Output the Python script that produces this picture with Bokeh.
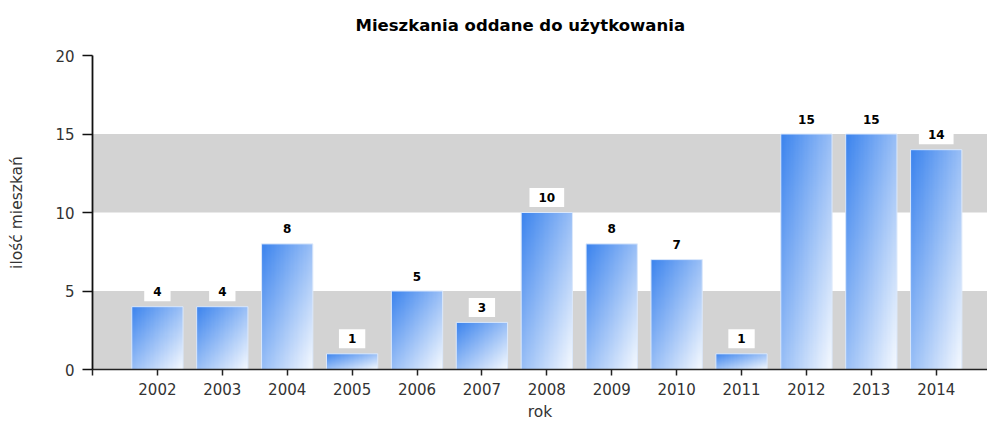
import numpy as np
from bokeh.plotting import figure
from bokeh.models import ColumnDataSource, Range1d, FixedTicker, BoxAnnotation, Title
from bokeh.core.properties import value
from bokeh.embed import file_html
from bokeh.resources import INLINE

# ---- data ----
years = [2002, 2003, 2004, 2005, 2006, 2007, 2008, 2009, 2010, 2011, 2012, 2013, 2014]
counts = [4, 4, 8, 1, 5, 3, 10, 8, 7, 1, 15, 15, 14]
y_ticks = [0, 5, 10, 15, 20]
title_text = "Mieszkania oddane do użytkowania"
x_label = "rok"
y_label = "ilość mieszkań"

BAR_W = 0.79
FONT = "DejaVu Sans"

# gradient image (diagonal, top-left blue -> bottom-right white)
def gradient_image(w=40, h=120):
    c0 = np.array([60, 132, 238], dtype=float)
    c1 = np.array([246, 250, 255], dtype=float)
    u = np.linspace(0, 1, w)[None, :]
    v = np.linspace(0, 1, h)[:, None]  # 0 at top
    t = (u + v) / 2.0
    rgb = c0[None, None, :] * (1 - t[..., None]) + c1[None, None, :] * t[..., None]
    img = np.empty((h, w), dtype=np.uint32)
    view = img.view(dtype=np.uint8).reshape((h, w, 4))
    view[..., 0] = rgb[..., 0].astype(np.uint8)
    view[..., 1] = rgb[..., 1].astype(np.uint8)
    view[..., 2] = rgb[..., 2].astype(np.uint8)
    view[..., 3] = 255
    return img[::-1]  # row 0 is bottom in bokeh

grad = gradient_image()

src = ColumnDataSource(dict(
    x=years,
    top=counts,
    left=[yr - BAR_W / 2 for yr in years],
    img=[grad for _ in years],
    dw=[BAR_W for _ in years],
    label=[str(c) for c in counts],
))

p = figure(width=987, height=424, output_backend="svg", toolbar_location=None,
           x_range=Range1d(2001, 2014.79), y_range=Range1d(0, 20),
           min_border_left=92, min_border_right=0, min_border_top=55, min_border_bottom=55)
p.outline_line_color = None
p.background_fill_color = "white"
p.border_fill_color = "white"

# spacer between frame and title (keeps the title high in the top margin)
p.add_layout(Title(text=" ", text_font_size="1px", standoff=18), "above")

# title
p.title.text = title_text
p.title.text_font = FONT
p.title.text_font_style = "bold"
p.title.text_font_size = "16.5px"
p.title.text_color = "#000000"
p.title.align = "left"
p.title.offset = 263
p.title.vertical_align = "bottom"
p.title.standoff = 0

# bands
for lo, hi in [(0, 5), (10, 15)]:
    p.add_layout(BoxAnnotation(bottom=lo, top=hi, fill_color="#d3d3d3", fill_alpha=1.0,
                               line_color=None, level="underlay"))

p.xgrid.grid_line_color = None
p.ygrid.grid_line_color = "#c4c4c4"
p.ygrid.grid_line_width = 1
p.ygrid.ticker = FixedTicker(ticks=[20])

# bars via image
p.image_rgba(image="img", x="left", y=0, dw="dw", dh="top", source=src)
p.vbar(x="x", top="top", width=BAR_W, source=src, fill_alpha=0,
       line_color="#dbe8fb", line_width=1)

# labels
p.text(x="x", y="top", text="label", source=src, text_align="center",
       text_baseline="middle", y_offset=-15, text_font=value(FONT),
       text_font_style="bold", text_font_size="12px", text_color="black",
       background_fill_color="white", padding=(9, 5))

# axes
p.yaxis.ticker = FixedTicker(ticks=y_ticks)
p.yaxis.axis_label = y_label
p.yaxis.axis_line_color = "#111111"
p.yaxis.axis_line_width = 1.8
p.yaxis.major_tick_line_color = "#111111"
p.yaxis.major_tick_line_width = 1.5
p.yaxis.major_tick_out = 10
p.yaxis.major_tick_in = 0
p.yaxis.minor_tick_line_color = None
p.yaxis.major_label_standoff = 8
p.yaxis.axis_label_standoff = 26

p.xaxis.ticker = FixedTicker(ticks=[2001] + years)
p.xaxis.major_label_overrides = {2001: ""}
p.xaxis.axis_label = x_label
p.xaxis.axis_line_color = "#222222"
p.xaxis.axis_line_width = 1.5
p.xaxis.major_tick_line_color = "#222222"
p.xaxis.major_tick_line_width = 1.5
p.xaxis.major_tick_out = 6
p.xaxis.major_tick_in = 0
p.xaxis.minor_tick_line_color = None
p.xaxis.major_label_standoff = 7
p.xaxis.axis_label_standoff = 5

for ax in (p.xaxis, p.yaxis):
    ax.major_label_text_font = FONT
    ax.major_label_text_font_size = "15px"
    ax.major_label_text_color = "#333333"
    ax.axis_label_text_font = FONT
    ax.axis_label_text_font_size = "15.5px"
    ax.axis_label_text_font_style = "normal"
    ax.axis_label_text_color = "#333333"

open("out.html", "w").write(file_html(p, INLINE))
